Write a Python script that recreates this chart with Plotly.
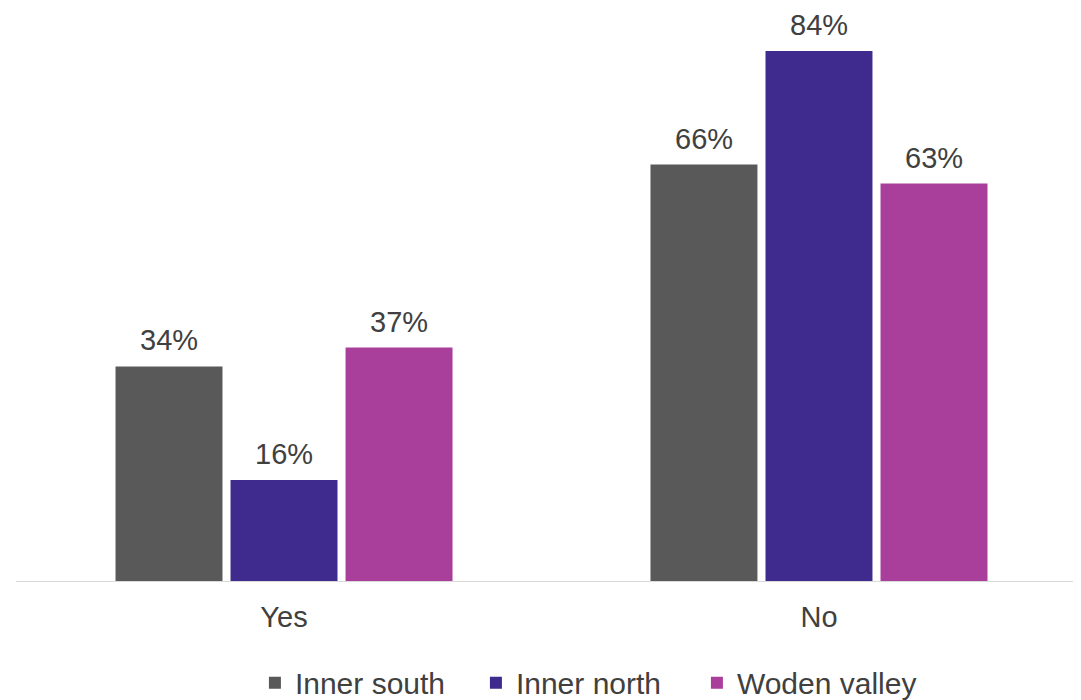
import plotly.graph_objects as go

categories = ["Yes", "No"]
series_names = ["Inner south", "Inner north", "Woden valley"]
inner_south = [34, 66]
inner_north = [16, 84]
woden_valley = [37, 63]
colors = ["#595959", "#3f2a8d", "#a93f9b"]

values = [inner_south, inner_north, woden_valley]

W, H = 1081, 700
ml, mr, mt, mb = 8, 2, 2, 127
x_range = [-0.501, 1.501]
y_range = [0, 90.5]
bargap = 0.355
bargroupgap = 0.07
text_color = "#404040"
font_family = "Liberation Sans, Arial, sans-serif"

fig = go.Figure()
for name, vals, col in zip(series_names, values, colors):
    fig.add_trace(go.Bar(
        name=name, x=categories, y=vals, marker=dict(color=col, line=dict(width=0)),
        hoverinfo="x+y+name",
    ))

# label positions derived from the grouped-bar layout
plot_w = W - ml - mr
px_per_cat = plot_w / (x_range[1] - x_range[0])
slot = (1 - bargap) * px_per_cat / len(series_names)
for i, vals in enumerate(values):
    shift = (i - (len(series_names) - 1) / 2) * slot
    for c, v in zip(categories, vals):
        fig.add_annotation(
            x=c, y=v, text=f"{v}%", showarrow=False, xshift=shift, yshift=9,
            yanchor="bottom", borderpad=0,
            font=dict(size=29, color=text_color, family=font_family),
        )

fig.update_layout(
    width=W, height=H,
    margin=dict(l=ml, r=mr, t=mt, b=mb, autoexpand=False),
    paper_bgcolor="white", plot_bgcolor="white",
    barmode="group", bargap=bargap, bargroupgap=bargroupgap,
    font=dict(family=font_family, color=text_color),
    showlegend=True,
    legend=dict(
        orientation="h", x=0.5326, xanchor="center", y=-0.178, yanchor="middle",
        font=dict(size=30, color=text_color, family=font_family),
        itemwidth=30, traceorder="normal", entrywidth=176,
    ),
    xaxis=dict(
        range=x_range, showgrid=False, zeroline=False, showline=True,
        linecolor="#d9d9d9", linewidth=1, ticks="", ticklabelstandoff=10,
        tickfont=dict(size=29, color=text_color, family=font_family),
    ),
    yaxis=dict(range=y_range, showgrid=False, zeroline=False, showline=False,
               showticklabels=False, ticks=""),
)

fig.write_html("out.html")
